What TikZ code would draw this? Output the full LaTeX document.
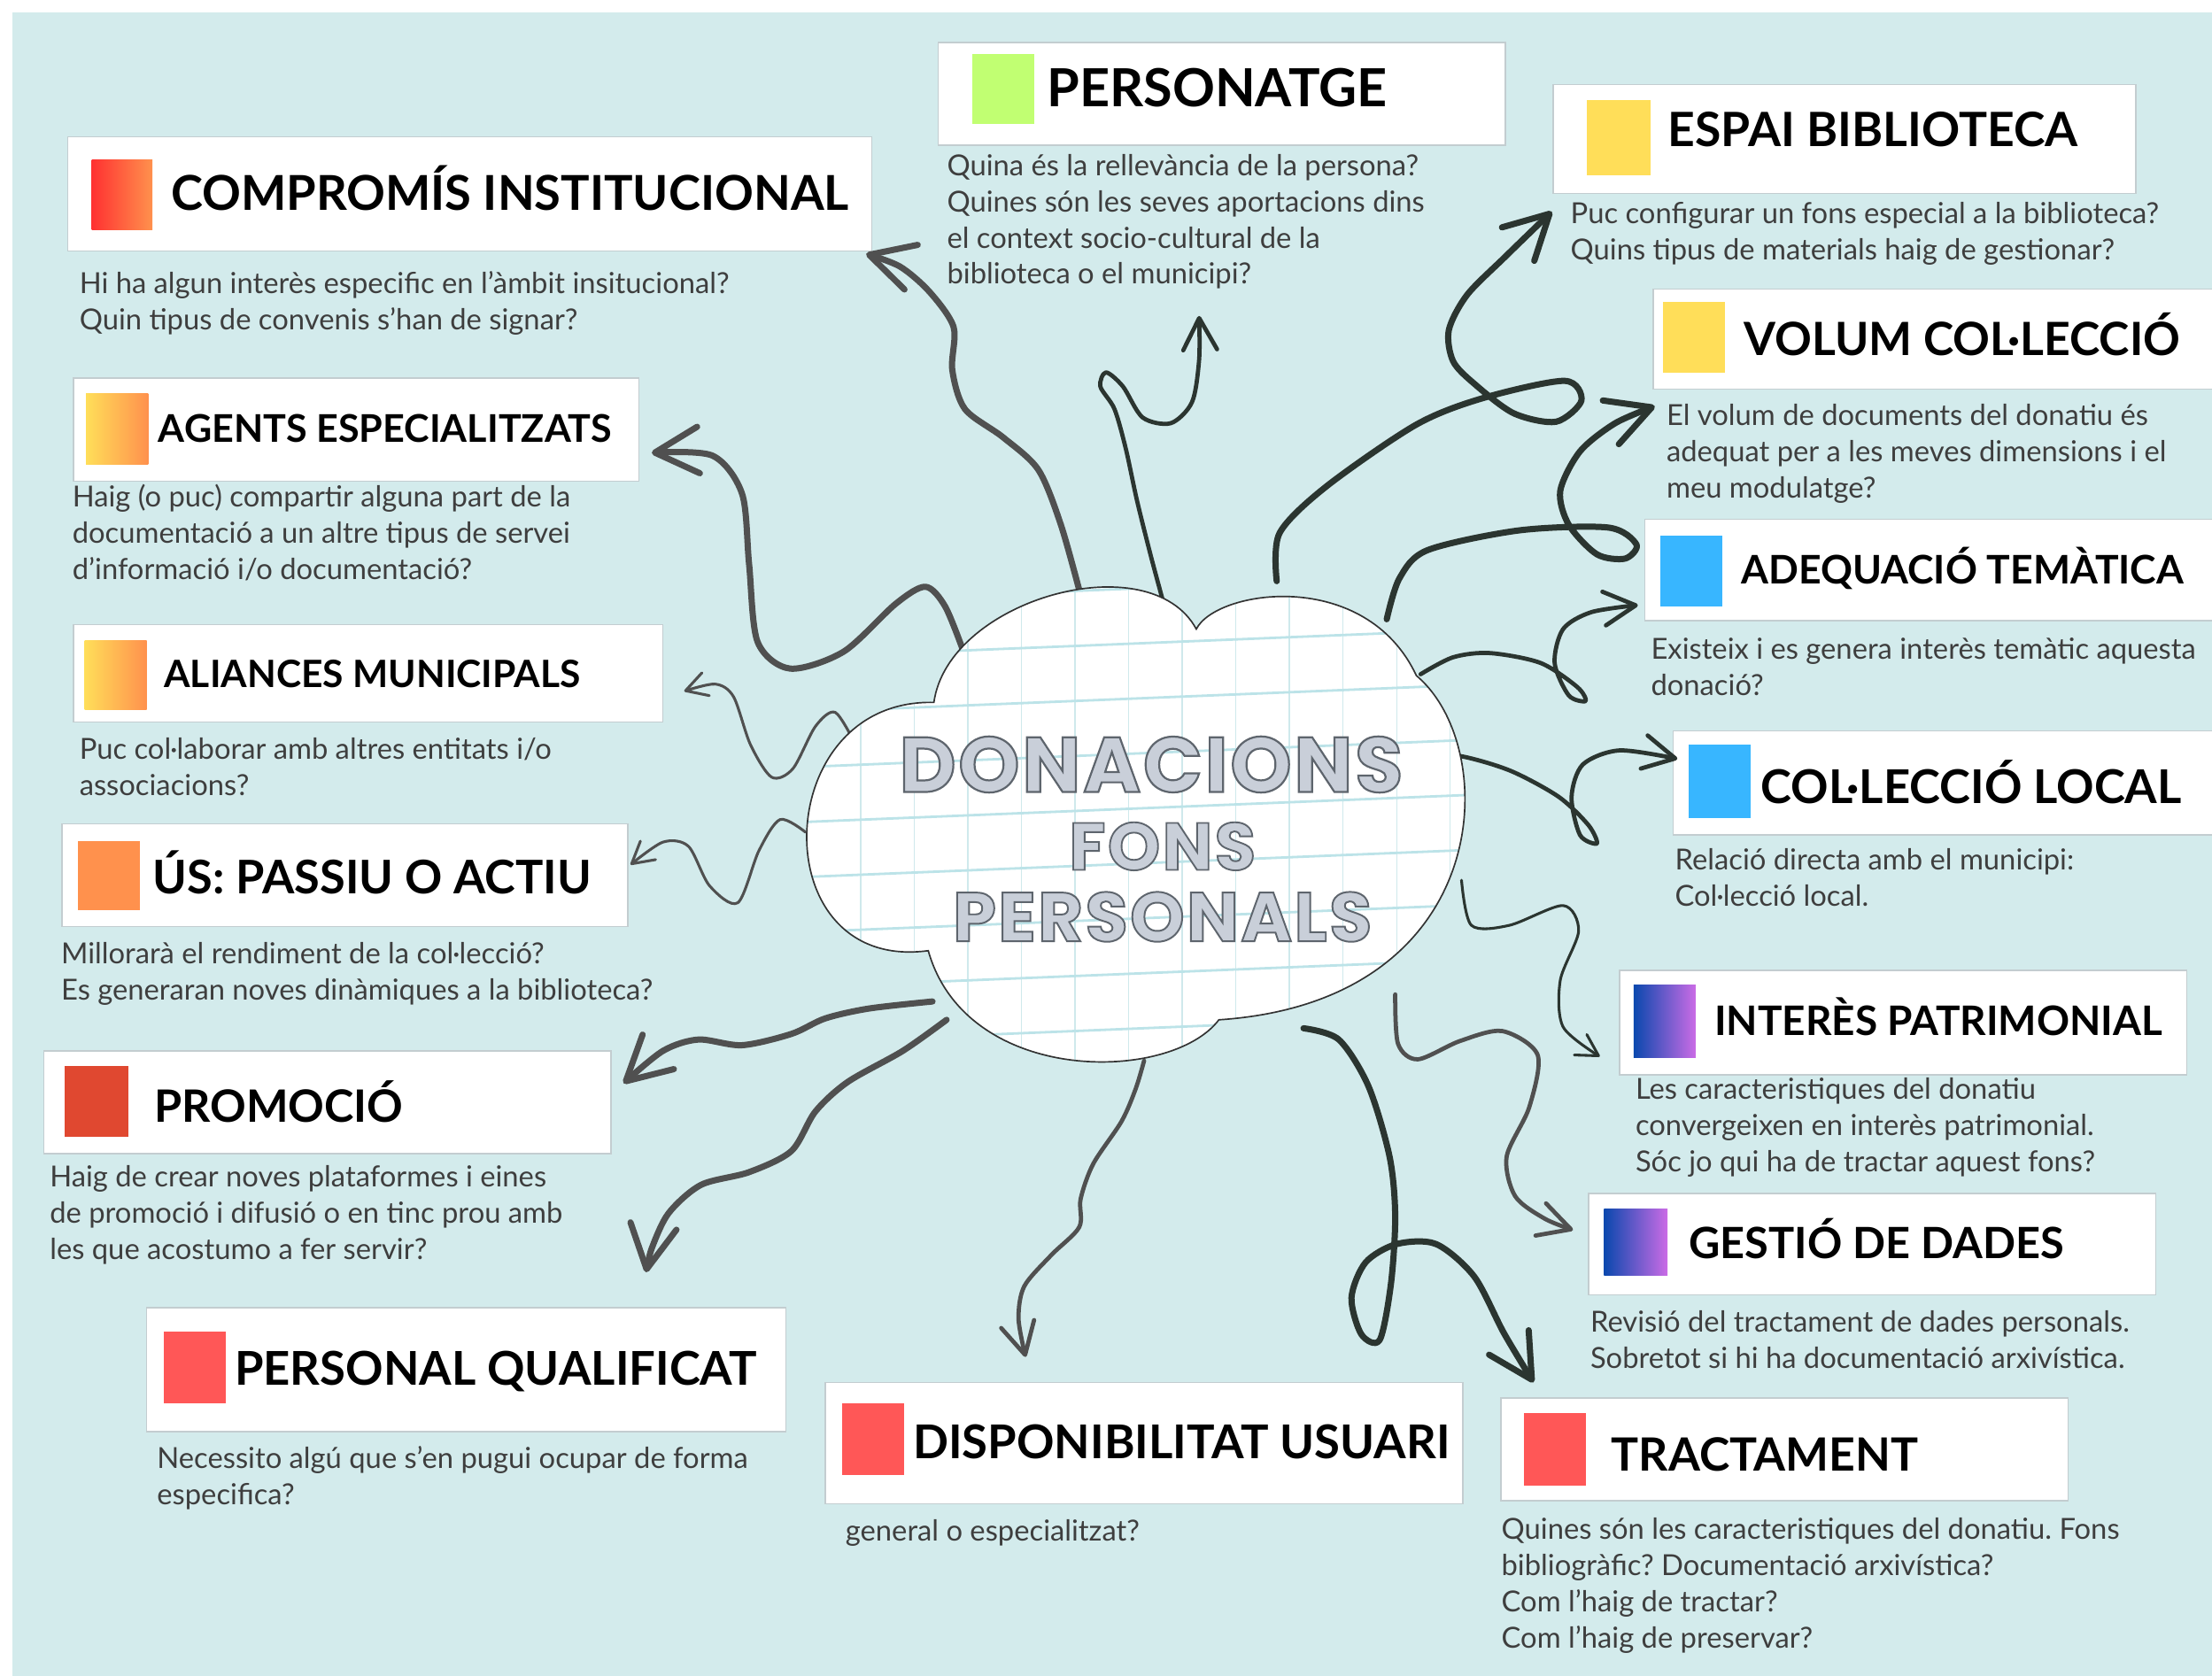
\documentclass[tikz,border=0pt]{standalone}
\usepackage{fontspec}
\setmainfont{Lato}
\newfontfamily\centrefont{Poppins}[FakeBold=2.5, LetterSpace=3]
\usetikzlibrary{arrows.meta,fit}

\definecolor{bgblue}{HTML}{D3EBEC}
\definecolor{boxline}{HTML}{C3CDD0}
\definecolor{desctext}{HTML}{3E3E3E}
\definecolor{arrgray}{HTML}{505050}
\definecolor{arrdark}{HTML}{2B3530}
\definecolor{gridv}{HTML}{CFE9EC}
\definecolor{gridh}{HTML}{BCE3E8}
\definecolor{centrefill}{HTML}{C9CFD9}
\definecolor{centreline}{HTML}{5E656D}
\definecolor{sqgreen}{HTML}{C1FF72}
\definecolor{sqyellow}{HTML}{FFDE59}
\definecolor{sqblue}{HTML}{38B6FF}
\definecolor{sqred}{HTML}{FF5757}
\definecolor{sqorange}{HTML}{FF914D}
\definecolor{sqbrick}{HTML}{E04830}
\definecolor{sqscarlet}{HTML}{FF3131}
\definecolor{sqnavy}{HTML}{0A48AE}
\definecolor{sqviolet}{HTML}{CB6CE6}

\newcommand{\boxfont}[1]{\fontsize{#1}{#1}\selectfont\bfseries}
\newcommand{\hollow}[1]{\pgfsetstrokecolor{centreline}#1}
\newcommand{\cloudshape}{(662,498) .. controls (672,425) and (815,385) .. (848,446)
  .. controls (862,418) and (968,402) .. (1004,479)
  .. controls (1065,530) and (1060,710) .. (864,723)
  .. controls (830,768) and (685,770) .. (658,674)
  .. controls (540,690) and (545,495) .. (662,498) -- cycle}

\tikzset{
  ttl/.style={anchor=west, inner sep=0pt, font=\boxfont{#1}, text height={0.72*#1pt}, text depth=0pt},
  thickarrow/.style={line width=2.5pt, line cap=round, line join=round, -{Straight Barb[round,length=0.62cm,width=0.66cm]}},
  midarrow/.style={line width=1.7pt, line cap=round, line join=round, -{Straight Barb[round,length=0.45cm,width=0.48cm]}},
  thinarrow/.style={line width=1.1pt, line cap=round, line join=round, -{Straight Barb[round,length=0.3cm,width=0.34cm]}}
}

\begin{document}
\frenchspacing
\begin{tikzpicture}[x=0.02cm, y=-0.02cm]
\tikzstyle{box}=[draw=boxline, line width=0.5pt, fill=white, inner sep=0pt]
\tikzstyle{sq}=[inner sep=0pt]
\tikzstyle{desc}=[anchor=north west, inner sep=0pt, align=left, text=desctext, font=\fontsize{11.7}{14.6}\selectfont]
\tikzstyle{centre}=[inner sep=0pt, text=centrefill]

\useasboundingbox (0,0) rectangle (1568,1188);
\fill[white] (0,0) rectangle (1568,1188);
\fill[bgblue] (9,9) rectangle (1568,1188);

% boxes, left column
\node[box, fit={(48,97) (618,178)}] (compromis) {};
\node[sq, left color=sqscarlet, right color=sqorange, fit={(65,113) (108,163)}] (compromisSq) {};
\node[ttl=19.4] (compromisT) at (121,137) {COMPROMÍS INSTITUCIONAL};
\node[desc] (compromisD) at (56,192) {Hi ha algun interès especific en l'àmbit insitucional?\\Quin tipus de convenis s'han de signar?};

\node[box, fit={(52,268) (453,341)}] (agents) {};
\node[sq, left color=sqyellow, right color=sqorange, fit={(61,279) (105,329)}] (agentsSq) {};
\node[ttl=15.4] (agentsT) at (112,304) {AGENTS ESPECIALITZATS};
\node[desc] (agentsD) at (51,343) {Haig (o puc) compartir alguna part de la\\documentació a un altre tipus de servei\\d'informació i/o documentació?};

\node[box, fit={(52,443) (470,512)}] (aliances) {};
\node[sq, left color=sqyellow, right color=sqorange, fit={(60,454) (104,503)}] (aliancesSq) {};
\node[ttl=15.2] (aliancesT) at (116,478) {ALIANCES MUNICIPALS};
\node[desc] (aliancesD) at (56,523) {Puc col·laborar amb altres entitats i/o\\associacions?};

\node[box, fit={(44,584) (445,657)}] (us) {};
\node[sq, fill=sqorange, fit={(55,596) (99,645)}] (usSq) {};
\node[ttl=18.7] (usT) at (108,622) {ÚS: PASSIU O ACTIU};
\node[desc] (usD) at (43,668) {Millorarà el rendiment de la col·lecció?\\Es generaran noves dinàmiques a la biblioteca?};

\node[box, fit={(31,745) (433,818)}] (promocio) {};
\node[sq, fill=sqbrick, fit={(46,756) (91,806)}] (promocioSq) {};
\node[ttl=18] (promocioT) at (109,784) {PROMOCIÓ};
\node[desc] (promocioD) at (35,826) {Haig de crear noves plataformes i eines\\de promoció i difusió o en tinc prou amb\\les que acostumo a fer servir?};

\node[box, fit={(104,927) (557,1015)}] (personal) {};
\node[sq, fill=sqred, fit={(116,944) (160,995)}] (personalSq) {};
\node[ttl=18.8] (personalT) at (166,970) {PERSONAL QUALIFICAT};
\node[desc] (personalD) at (111,1025) {Necessito algú que s'en pugui ocupar de forma\\especifica?};

\node[box, fit={(585,980) (1037,1066)}] (disponibilitat) {};
\node[sq, fill=sqred, fit={(597,995) (641,1046)}] (disponibilitatSq) {};
\node[ttl=18.8] (disponibilitatT) at (647,1022) {DISPONIBILITAT USUARI};
\node[desc] (disponibilitatD) at (599,1077) {general o especialitzat?};

% boxes, top and right column
\node[box, fit={(665,30) (1067,103)}] (personatge) {};
\node[sq, fill=sqgreen, fit={(689,38) (733,88)}] (personatgeSq) {};
\node[ttl=21.2] (personatgeT) at (742,62) {PERSONATGE};
\node[desc] (personatgeD) at (671,109) {Quina és la rellevància de la persona?\\Quines són les seves aportacions dins\\el context socio-cultural de la\\biblioteca o el municipi?};

\node[box, fit={(1101,60) (1514,137)}] (espai) {};
\node[sq, fill=sqyellow, fit={(1125,71) (1170,124)}] (espaiSq) {};
\node[ttl=19.1] (espaiT) at (1182,92) {ESPAI BIBLIOTECA};
\node[desc] (espaiD) at (1113,143) {Puc configurar un fons especial a la biblioteca?\\Quins tipus de materials haig de gestionar?};

\node[box, fit={(1172,205) (1580,276)}] (volum) {};
\node[sq, fill=sqyellow, fit={(1179,214) (1223,264)}] (volumSq) {};
\node[ttl=18.5] (volumT) at (1236,240) {VOLUM COL·LECCIÓ};
\node[desc] (volumD) at (1181,286) {El volum de documents del donatiu és\\adequat per a les meves dimensions i el\\meu modulatge?};

\node[box, fit={(1166,368) (1580,440)}] (adequacio) {};
\node[sq, fill=sqblue, fit={(1177,380) (1221,430)}] (adequacioSq) {};
\node[ttl=15.9] (adequacioT) at (1234,404) {ADEQUACIÓ TEMÀTICA};
\node[desc] (adequacioD) at (1170,452) {Existeix i es genera interès temàtic aquesta\\donació?};

\node[box, fit={(1186,518) (1580,592)}] (local) {};
\node[sq, fill=sqblue, fit={(1197,528) (1241,580)}] (localSq) {};
\node[ttl=18.8] (localT) at (1248,558) {COL·LECCIÓ LOCAL};
\node[desc] (localD) at (1187,601) {Relació directa amb el municipi:\\Col·lecció local.};

\node[box, fit={(1148,688) (1550,762)}] (interes) {};
\node[sq, left color=sqnavy, right color=sqviolet, fit={(1158,698) (1202,750)}] (interesSq) {};
\node[ttl=16.4] (interesT) at (1215,724) {INTERÈS PATRIMONIAL};
\node[desc] (interesD) at (1159,764) {Les caracteristiques del donatiu\\convergeixen en interès patrimonial.\\Sóc jo qui ha de tractar aquest fons?};

\node[box, fit={(1126,846) (1528,918)}] (gestio) {};
\node[sq, left color=sqnavy, right color=sqviolet, fit={(1137,857) (1182,904)}] (gestioSq) {};
\node[ttl=17.4] (gestioT) at (1197,881) {GESTIÓ DE DADES};
\node[desc] (gestioD) at (1127,929) {Revisió del tractament de dades personals.\\Sobretot si hi ha documentació arxivística.};

\node[box, fit={(1064,991) (1466,1064)}] (tractament) {};
\node[sq, fill=sqred, fit={(1080,1002) (1124,1053)}] (tractamentSq) {};
\node[ttl=18.5] (tractamentT) at (1142,1031) {TRACTAMENT};
\node[desc] (tractamentD) at (1064,1076) {Quines són les caracteristiques del donatiu. Fons\\bibliogràfic? Documentació arxivística?\\Com l'haig de tractar?\\Com l'haig de preservar?};

% where the arrows leave the cloud and where they point
\coordinate (c1) at (766,422);  \coordinate (t1) at (614,180);
\coordinate (c2) at (683,462);  \coordinate (t2) at (462,321);
\coordinate (c3) at (606,527);  \coordinate (t3) at (485,490);
\coordinate (c4) at (571,590);  \coordinate (t4) at (447,613);
\coordinate (c5) at (661,710);  \coordinate (t5) at (442,768);
\coordinate (c6) at (671,723);  \coordinate (t6) at (458,902);
\coordinate (c7) at (811,752);  \coordinate (t7) at (727,962);
\coordinate (c8) at (924,729);  \coordinate (t8) at (1087,980);
\coordinate (c9) at (989,705);  \coordinate (t9) at (1115,872);
\coordinate (c10) at (1036,624); \coordinate (t10) at (1134,749);
\coordinate (c11) at (1007,532); \coordinate (t11) at (1189,538);
\coordinate (c12) at (1007,478); \coordinate (t12) at (1161,429);
\coordinate (c13) at (983,439);  \coordinate (t13) at (1173,288);
\coordinate (c14) at (905,412);  \coordinate (t14) at (1100,150);
\coordinate (c15) at (826,432);  \coordinate (t15) at (850,224);

\draw[thickarrow, arrgray] plot[smooth] coordinates {(c1) (752,372) (736,333) (711,310) (684,290) (675,262) (676,232) (659,207) (638,189) (t1)};
\draw[thickarrow, arrgray] plot[smooth] coordinates {(c2) (670,430) (656,416) (635,428) (598,462) (560,474) (537,455) (531,400) (526,350) (505,323) (t2)};
\draw[thinarrow, arrgray] plot[smooth] coordinates {(c3) (592,505) (578,515) (562,545) (547,551) (532,528) (520,494) (507,485) (t3)};
\draw[thinarrow, arrgray] plot[smooth] coordinates {(c4) (553,581) (538,603) (523,640) (503,628) (488,600) (470,597) (t4)};
\draw[thickarrow, arrgray] plot[smooth] coordinates {(c5) (616,715) (585,722) (561,733) (526,741) (495,737) (470,745) (t5)};
\draw[thickarrow, arrgray] plot[smooth] coordinates {(c6) (640,745) (601,767) (578,788) (561,816) (531,831) (497,840) (474,860) (462,885) (t6)};
\draw[midarrow, arrgray] plot[smooth] coordinates {(c7) (805,772) (795,795) (775,825) (766,850) (765,870) (745,890) (726,912) (722,935) (t7)};
\draw[thickarrow, arrdark] plot[smooth] coordinates {(c8) (949,737) (970,770) (985,820) (989,862) (986,910) (978,950) (965,946) (958,920) (968,895) (990,882) (1018,882) (1045,905) (1066,945) (t8)};
\draw[midarrow, arrgray] plot[smooth] coordinates {(c9) (991,740) (1005,751) (1035,738) (1065,731) (1090,748) (1084,785) (1068,820) (1074,848) (1095,864) (t9)};
\draw[thinarrow, arrdark] plot[smooth] coordinates {(c10) (1043,656) (1070,656) (1108,642) (1119,660) (1106,695) (1108,728) (t10)};
\draw[midarrow, arrdark] plot[smooth] coordinates {(c11) (1040,537) (1072,547) (1105,565) (1126,585) (1132,598) (1120,592) (1114,565) (1122,542) (1148,532) (t11)};
\draw[midarrow, arrdark] plot[smooth] coordinates {(c12) (1030,466) (1056,463) (1092,470) (1118,487) (1124,497) (1112,493) (1102,470) (1108,446) (1128,434) (t12)};
\draw[thickarrow, arrdark] plot[smooth] coordinates {(c13) (992,410) (1012,390) (1077,376) (1140,374) (1160,386) (1152,396) (1132,393) (1112,372) (1106,348) (1120,320) (1145,300) (t13)};
\draw[thickarrow, arrdark] plot[smooth] coordinates {(c14) (907,378) (940,345) (1004,301) (1052,282) (1109,270) (1121,284) (1103,299) (1073,293) (1045,272) (1030,256) (1027,234) (1040,209) (1067,182) (t14)};
\draw[midarrow, arrdark] plot[smooth] coordinates {(c15) (816,395) (806,355) (798,318) (790,290) (780,274) (784,264) (796,274) (810,296) (830,300) (845,285) (850,255) (t15)};

% cloud with squared paper
\begin{scope}
  \clip \cloudshape;
  \fill[white] (540,380) rectangle (1080,790);
  \foreach \x in {572,610,...,1030} \draw[gridv, line width=0.5pt] (\x,380) -- (\x,790);
  \foreach \y in {380,419,...,810} \draw[gridh, line width=1pt] (540,\y+9) -- (1080,\y-13);
\end{scope}
\draw[line width=0.6pt, black!80] \cloudshape;

\node[centre, font=\centrefont\bfseries\fontsize{31.5}{31.5}\selectfont] (donacions) at (816,542) {\hollow{DONACIONS}};
\node[centre, font=\centrefont\bfseries\fontsize{27}{27}\selectfont] (fons) at (824,600) {\hollow{FONS}};
\node[centre, font=\centrefont\bfseries\fontsize{28}{28}\selectfont] (personals) at (824,650) {\hollow{PERSONALS}};
\end{tikzpicture}
\end{document}
